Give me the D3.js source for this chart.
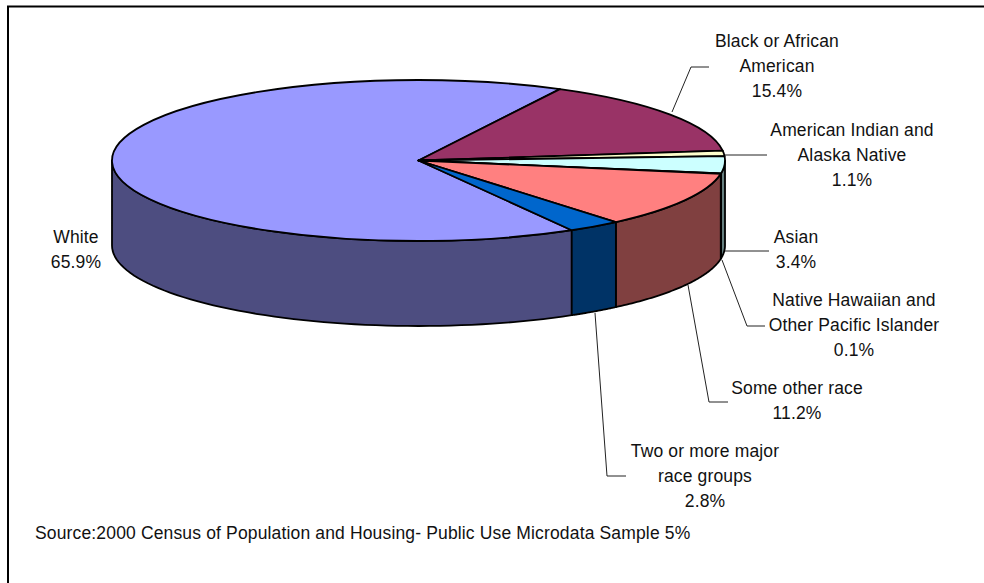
<!DOCTYPE html>
<html><head><meta charset="utf-8">
<script src="https://cdn.jsdelivr.net/npm/d3@7"></script>
<style>html,body{margin:0;padding:0;background:#fff}svg{display:block}text{font-family:"Liberation Sans",Arial,sans-serif;font-size:17.5px;letter-spacing:.15px;fill:#111}</style>
</head><body><svg id="c" width="984" height="583"></svg>
<script>
const categories=["White","Black or African American","American Indian and Alaska Native","Asian","Native Hawaiian and Other Pacific Islander","Some other race","Two or more major race groups"];
const values=[65.9,15.4,1.1,3.4,0.1,11.2,2.8];
const topColors=["#9999FF","#993366","#FFFFCC","#CCFFFF","#660066","#FF8080","#0066CC"];
const wallColors=["#4D4D80","#4D1A33","#808066","#668080","#330033","#804040","#003366"];
const labelLines=[["White","65.9%"],["Black or African","American","15.4%"],["American Indian and","Alaska Native","1.1%"],["Asian","3.4%"],["Native Hawaiian and","Other Pacific Islander","0.1%"],["Some other race","11.2%"],["Two or more major","race groups","2.8%"]];
const labelAnchor=[[76,243],[777,47],[852,136],[796,243],[854,306],[797,394],[705,457]];
const leaders=[null,[[672,112],[691,67],[709,67]],[[725,155],[767,155]],[[725,251],[769,251]],[[722,260],[747,326],[765,326]],[[688,285],[709,402],[728,402]],[[595,313],[607,476],[626,476]]];
const source="Source:2000 Census of Population and Housing- Public Use Microdata Sample 5%";
const cx=418.5,cy=160.5,rx=306.5,ry=80.5,depth=85,startDeg=150;

const svg=d3.select("#c");
svg.append("path").attr("d","M8,583V6.5H984").attr("fill","none").attr("stroke","#000").attr("stroke-width",2);

const pie=d3.pie().sort(null).startAngle(startDeg*Math.PI/180).endAngle((startDeg+360)*Math.PI/180);
const arcs=pie(values);
const px=a=>cx+rx*Math.sin(a), py=a=>cy-ry*Math.cos(a);
const line=d3.line();
const wallPath=d=>{
  const out=[];
  for(const k of [0,1]){
    const lo=Math.max(d.startAngle,Math.PI/2+k*2*Math.PI), hi=Math.min(d.endAngle,1.5*Math.PI+k*2*Math.PI);
    if(hi>lo){
      const as=d3.range(0,61).map(i=>lo+(hi-lo)*i/60);
      out.push(line(as.map(a=>[px(a),py(a)]).concat(as.slice().reverse().map(a=>[px(a),py(a)+depth])))+"Z");
    }
  }
  return out.join("");
};
svg.append("g").selectAll("path").data(arcs).join("path").attr("d",wallPath)
  .attr("fill",(d,i)=>wallColors[i]).attr("stroke","#000").attr("stroke-width",1.8).attr("stroke-linejoin","round");

const arcGen=d3.arc().innerRadius(0).outerRadius(rx);
svg.append("g").attr("transform",`translate(${cx},${cy}) scale(1,${ry/rx})`)
  .selectAll("path").data(arcs).join("path").attr("d",arcGen)
  .attr("fill",(d,i)=>topColors[i]).attr("stroke","#000").attr("stroke-width",1.8)
  .attr("vector-effect","non-scaling-stroke").attr("stroke-linejoin","round");

svg.append("g").selectAll("path").data(leaders.filter(Boolean)).join("path")
  .attr("d",d=>line(d)).attr("fill","none").attr("stroke","#222").attr("stroke-width",1);

const lab=svg.append("g").attr("text-anchor","middle");
categories.forEach((c,i)=>{
  const t=lab.append("text").attr("data-category",c);
  labelLines[i].forEach((s,j)=>t.append("tspan").attr("x",labelAnchor[i][0]).attr("y",labelAnchor[i][1]+j*25).text(s));
});
svg.append("text").attr("x",35).attr("y",539).text(source);
</script></body></html>
